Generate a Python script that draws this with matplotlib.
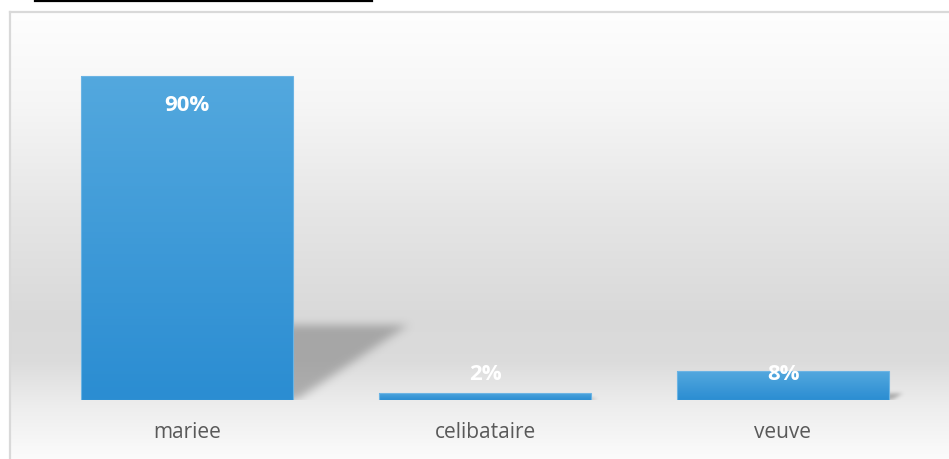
import numpy as np
import matplotlib
matplotlib.use("Agg")
import matplotlib.pyplot as plt
from matplotlib.patches import Rectangle
from matplotlib.colors import LinearSegmentedColormap

# --- data ---
categories = ["mariee", "celibataire", "veuve"]
values = [90, 2, 8]          # percent
y_max = 100

W, H, DPI = 949, 459, 100
fig = plt.figure(figsize=(W / DPI, H / DPI), dpi=DPI)
fig.patch.set_facecolor("white")

# ---- background layer in pixel coordinates ----
bg = fig.add_axes([0, 0, 1, 1])
bg.set_xlim(0, W)
bg.set_ylim(H, 0)
bg.axis("off")

frame_l, frame_t = 10, 12
# vertical grey gradient of the chart area
stops_pos = np.array([0.0, 0.2, 0.45, 0.68, 0.78, 0.88, 1.0])
stops_val = np.array([0.995, 0.965, 0.90, 0.852, 0.86, 0.93, 0.985])
rows = np.linspace(0, 1, 400)
shade = np.interp(rows, stops_pos, stops_val)
grad = np.repeat(shade[:, None], 2, axis=1)
bg.imshow(np.dstack([grad, grad, grad]), extent=[frame_l, W, H, frame_t],
          aspect="auto", interpolation="bilinear", zorder=0)
# frame border
bg.plot([frame_l, frame_l], [frame_t, H], color="#d9d9d9", lw=1.6, zorder=1)
bg.plot([frame_l, W], [frame_t, frame_t], color="#d9d9d9", lw=1.6, zorder=1)
# title underline at the very top
bg.plot([35, 372], [0.8, 0.8], color="black", lw=1.6, zorder=1)

# ---- chart axes ----
ax = fig.add_axes([38 / W, (H - 400) / H, 894 / W, 360 / H])
ax.set_xlim(-0.5, len(categories) - 0.5)
ax.set_ylim(0, y_max)
ax.patch.set_alpha(0)
for s in ax.spines.values():
    s.set_visible(False)
ax.set_yticks([])
ax.tick_params(axis="x", length=0, pad=16)
ax.set_xticks(range(len(categories)))
ax.set_xticklabels(categories, fontsize=15, color="#595959", family="Open Sans")

bar_w = 0.71
x = np.arange(len(categories))


def box_blur(a, r):
    k = np.ones(2 * r + 1) / (2 * r + 1)
    a = np.apply_along_axis(lambda m: np.convolve(m, k, mode="same"), 0, a)
    a = np.apply_along_axis(lambda m: np.convolve(m, k, mode="same"), 1, a)
    return a


# perspective shadow cast by each bar (soft, blurred)
for xi, v in zip(x, values):
    xr = xi + bar_w / 2
    h = max(v * 0.23, 0.3)
    dx = 0.376 * v / 90
    gx = np.linspace(xr - 0.1, xr + dx + 0.15, 300)
    gy = np.linspace(-5, h + 6, 220)
    XX, YY = np.meshgrid(gx, gy)
    inside = ((YY >= 0) & (YY <= h) & (XX >= xr - 0.03)
              & (XX <= xr + dx * (YY / h) + 0.01))
    m = box_blur(box_blur(box_blur(inside.astype(float), 8), 8), 6)
    rgba = np.zeros(m.shape + (4,))
    rgba[..., :3] = 0.45
    rgba[..., 3] = np.clip(m, 0, 1) * 0.5
    ax.imshow(rgba, extent=[gx[0], gx[-1], gy[0], gy[-1]], origin="lower",
              aspect="auto", interpolation="bilinear", zorder=1)

# bars with vertical blue gradient
cmap = LinearSegmentedColormap.from_list("barblue", ["#2b8dd2", "#53a8de"])
bars = ax.bar(x, values, width=bar_w, color="none", edgecolor="#6cb4e4",
              linewidth=0.8, zorder=3)
for b in bars:
    x0, y0 = b.get_x(), b.get_y()
    bw, bh = b.get_width(), b.get_height()
    g = np.linspace(0, 1, 100)[:, None]
    im = ax.imshow(g, cmap=cmap, extent=[x0, x0 + bw, y0, y0 + bh],
                   origin="lower", aspect="auto", zorder=2)
    im.set_clip_path(Rectangle((x0, y0), bw, bh, transform=ax.transData))

ax.set_xlim(-0.5, len(categories) - 0.5)
ax.set_ylim(0, y_max)

# value labels
for xi, v in zip(x, values):
    ly = max(v - 8.1, 7.2)
    ax.text(xi, ly, f"{v}%", ha="center", va="center", color="white",
            fontsize=16, fontweight="bold", family="Open Sans", zorder=4)

fig.savefig("out.png", dpi=DPI)
